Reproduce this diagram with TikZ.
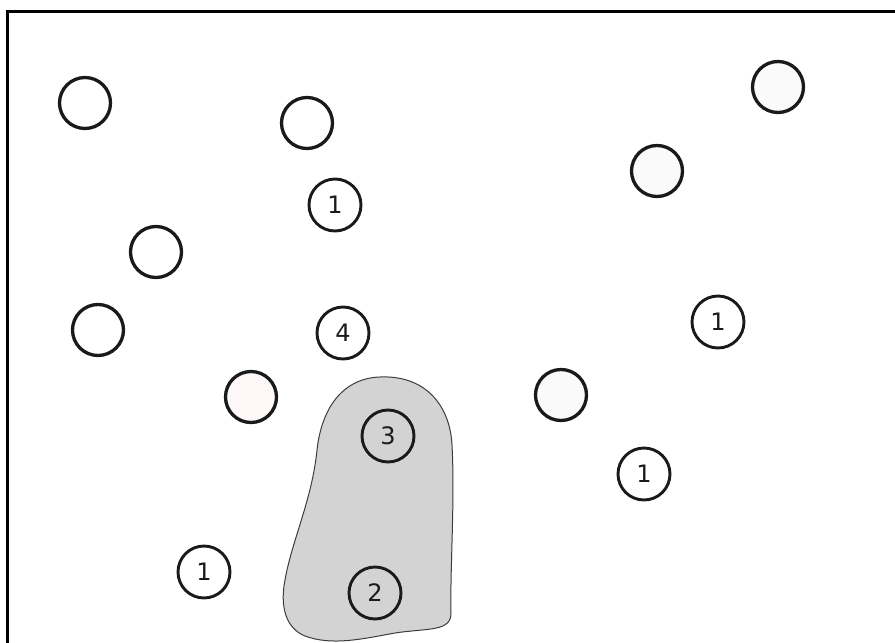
\documentclass[tikz,border=0pt]{standalone}
\usepackage{fontspec}
\setmainfont{DejaVu Sans}
\definecolor{ink}{HTML}{1A1A1A}
\definecolor{blobgray}{HTML}{D3D3D3}
\definecolor{pinkish}{HTML}{FFF8F8}
\definecolor{offwhite}{HTML}{FAFAFA}
\tikzset{
  bigc/.style={circle, draw=ink, line width=3.3pt, minimum size=51pt, inner sep=0pt, fill=white},
  numc/.style={circle, draw=ink, line width=2.9pt, minimum size=52pt, inner sep=0pt, fill=white, font=\fontsize{24}{24}\selectfont, text=ink},
  numin/.style={numc, fill=none},
  blob/.style={fill=blobgray, draw=ink!85, line width=1pt}
}
\begin{document}
\begin{tikzpicture}[x=1pt,y=-1pt]
\useasboundingbox (0,0) rectangle (895,643);
\clip (0,0) rectangle (895,643);
\draw[line width=3pt, draw=black] (7,11) rectangle (905,660);
% blob
\draw[blob] (380,377) .. controls (425,375) and (450,405) .. (452,445)
 .. controls (455,500) and (450,570) .. (451,612)
 .. controls (452,632) and (428,628) .. (395,633)
 .. controls (362,639) and (332,646) .. (305,636)
 .. controls (285,628) and (280,605) .. (285,580)
 .. controls (292,540) and (312,500) .. (317,450)
 .. controls (322,405) and (345,378) .. (380,377) -- cycle;
% plain circles
\node[bigc] (a) at (85,103) {};
\node[bigc] (b) at (307,123) {};
\node[bigc] (c) at (156,252) {};
\node[bigc] (d) at (98,330) {};
\node[bigc, fill=pinkish] (e) at (251,397) {};
\node[bigc, fill=offwhite] (f) at (778,87) {};
\node[bigc, fill=offwhite] (g) at (657,171) {};
\node[bigc, fill=offwhite] (h) at (561,395) {};
% numbered circles
\node[numc] (n1) at (335,205) {1};
\node[numc] (n4) at (343,333) {4};
\node[numc] (n5) at (718,322) {1};
\node[numc] (n6) at (644,474) {1};
\node[numc] (n7) at (204,572) {1};
\node[numin] (n3) at (388,436) {3};
\node[numin] (n2) at (375,593) {2};
\end{tikzpicture}
\end{document}
